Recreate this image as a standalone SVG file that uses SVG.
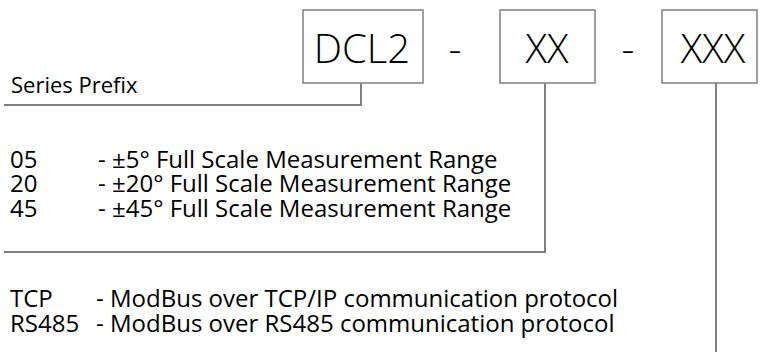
<svg xmlns="http://www.w3.org/2000/svg" width="760" height="354" viewBox="0 0 760 354">
<style>
.box{fill:#fff;stroke:#808080;stroke-width:1.5}
.big{font-family:"Open Sans","Noto Sans",sans-serif;font-size:40px;font-weight:300;fill:#000}
.s{font-family:"Open Sans","Noto Sans",sans-serif;font-size:22px;fill:#000}
.t{font-family:"Open Sans","Noto Sans",sans-serif;font-size:24px;fill:#000}
.c{fill:none;stroke:#808080;stroke-width:2}
</style>
<rect width="760" height="354" fill="#fff"/>
<g id="connectors">
<polyline class="c" points="361,83 361,105 4,105"/>
<polyline class="c" points="545,83 545,252 4,252"/>
<polyline class="c" points="716,83 716,352"/>
</g>
<g id="node-dcl2">
<rect class="box" x="303" y="10" width="120" height="73"/>
<text class="big" x="362" y="63" text-anchor="middle">DCL2</text>
</g>
<text class="big" x="455" y="63" text-anchor="middle">-</text>
<g id="node-xx">
<rect class="box" x="500" y="10" width="95" height="73"/>
<text class="big" x="547" y="63" text-anchor="middle">XX</text>
</g>
<text class="big" x="628" y="63" text-anchor="middle">-</text>
<g id="node-xxx">
<rect class="box" x="662" y="10" width="95" height="73"/>
<text class="big" x="713" y="63" text-anchor="middle">XXX</text>
</g>
<g id="series-prefix">
<text class="s" x="11" y="93">Series Prefix</text>
</g>
<g id="range">
<text class="t" x="10" y="168">05</text>
<text class="t" x="98" y="168">- ±5° Full Scale Measurement Range</text>
<text class="t" x="10" y="192">20</text>
<text class="t" x="98" y="192">- ±20° Full Scale Measurement Range</text>
<text class="t" x="10" y="217">45</text>
<text class="t" x="98" y="217">- ±45° Full Scale Measurement Range</text>
</g>
<g id="protocol">
<text class="t" x="10" y="307">TCP</text>
<text class="t" x="96" y="307">- ModBus over TCP/IP communication protocol</text>
<text class="t" x="10" y="332">RS485</text>
<text class="t" x="96" y="332">- ModBus over RS485 communication protocol</text>
</g>
</svg>
